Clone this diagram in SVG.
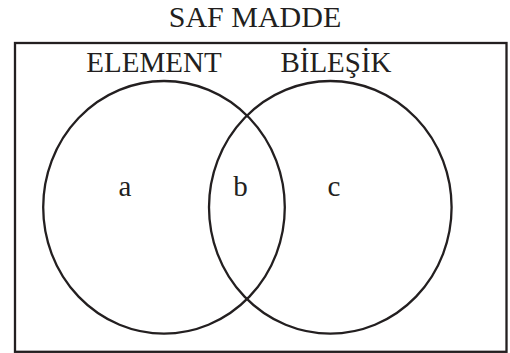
<svg xmlns="http://www.w3.org/2000/svg" width="510" height="353" viewBox="0 0 510 353">
<style>
.ln{fill:none;stroke:#231f20;stroke-width:2.3}
text{font-family:"Liberation Serif","DejaVu Serif",serif;fill:#231f20;text-anchor:middle}
.t{font-size:29px}
</style>
<rect width="510" height="353" fill="#ffffff"/>
<g id="saf-madde">
<rect class="ln" x="15" y="43" width="491.5" height="308.8"/>
<text class="t" x="255" y="27" font-size="30" style="font-size:30px">SAF MADDE</text>
</g>
<g id="element">
<ellipse class="ln" cx="164" cy="207.3" rx="120.8" ry="126.3"/>
<text class="t" x="154" y="71.5">ELEMENT</text>
</g>
<g id="bilesik">
<ellipse class="ln" cx="330.3" cy="207.3" rx="121.3" ry="126.3"/>
<text class="t" x="336" y="71.5">BİLEŞİK</text>
</g>
<g id="label-a"><text class="t" x="125" y="196">a</text></g>
<g id="label-b"><text class="t" x="240.5" y="196">b</text></g>
<g id="label-c"><text class="t" x="334" y="196">c</text></g>
<g id="connectors"/>
</svg>
